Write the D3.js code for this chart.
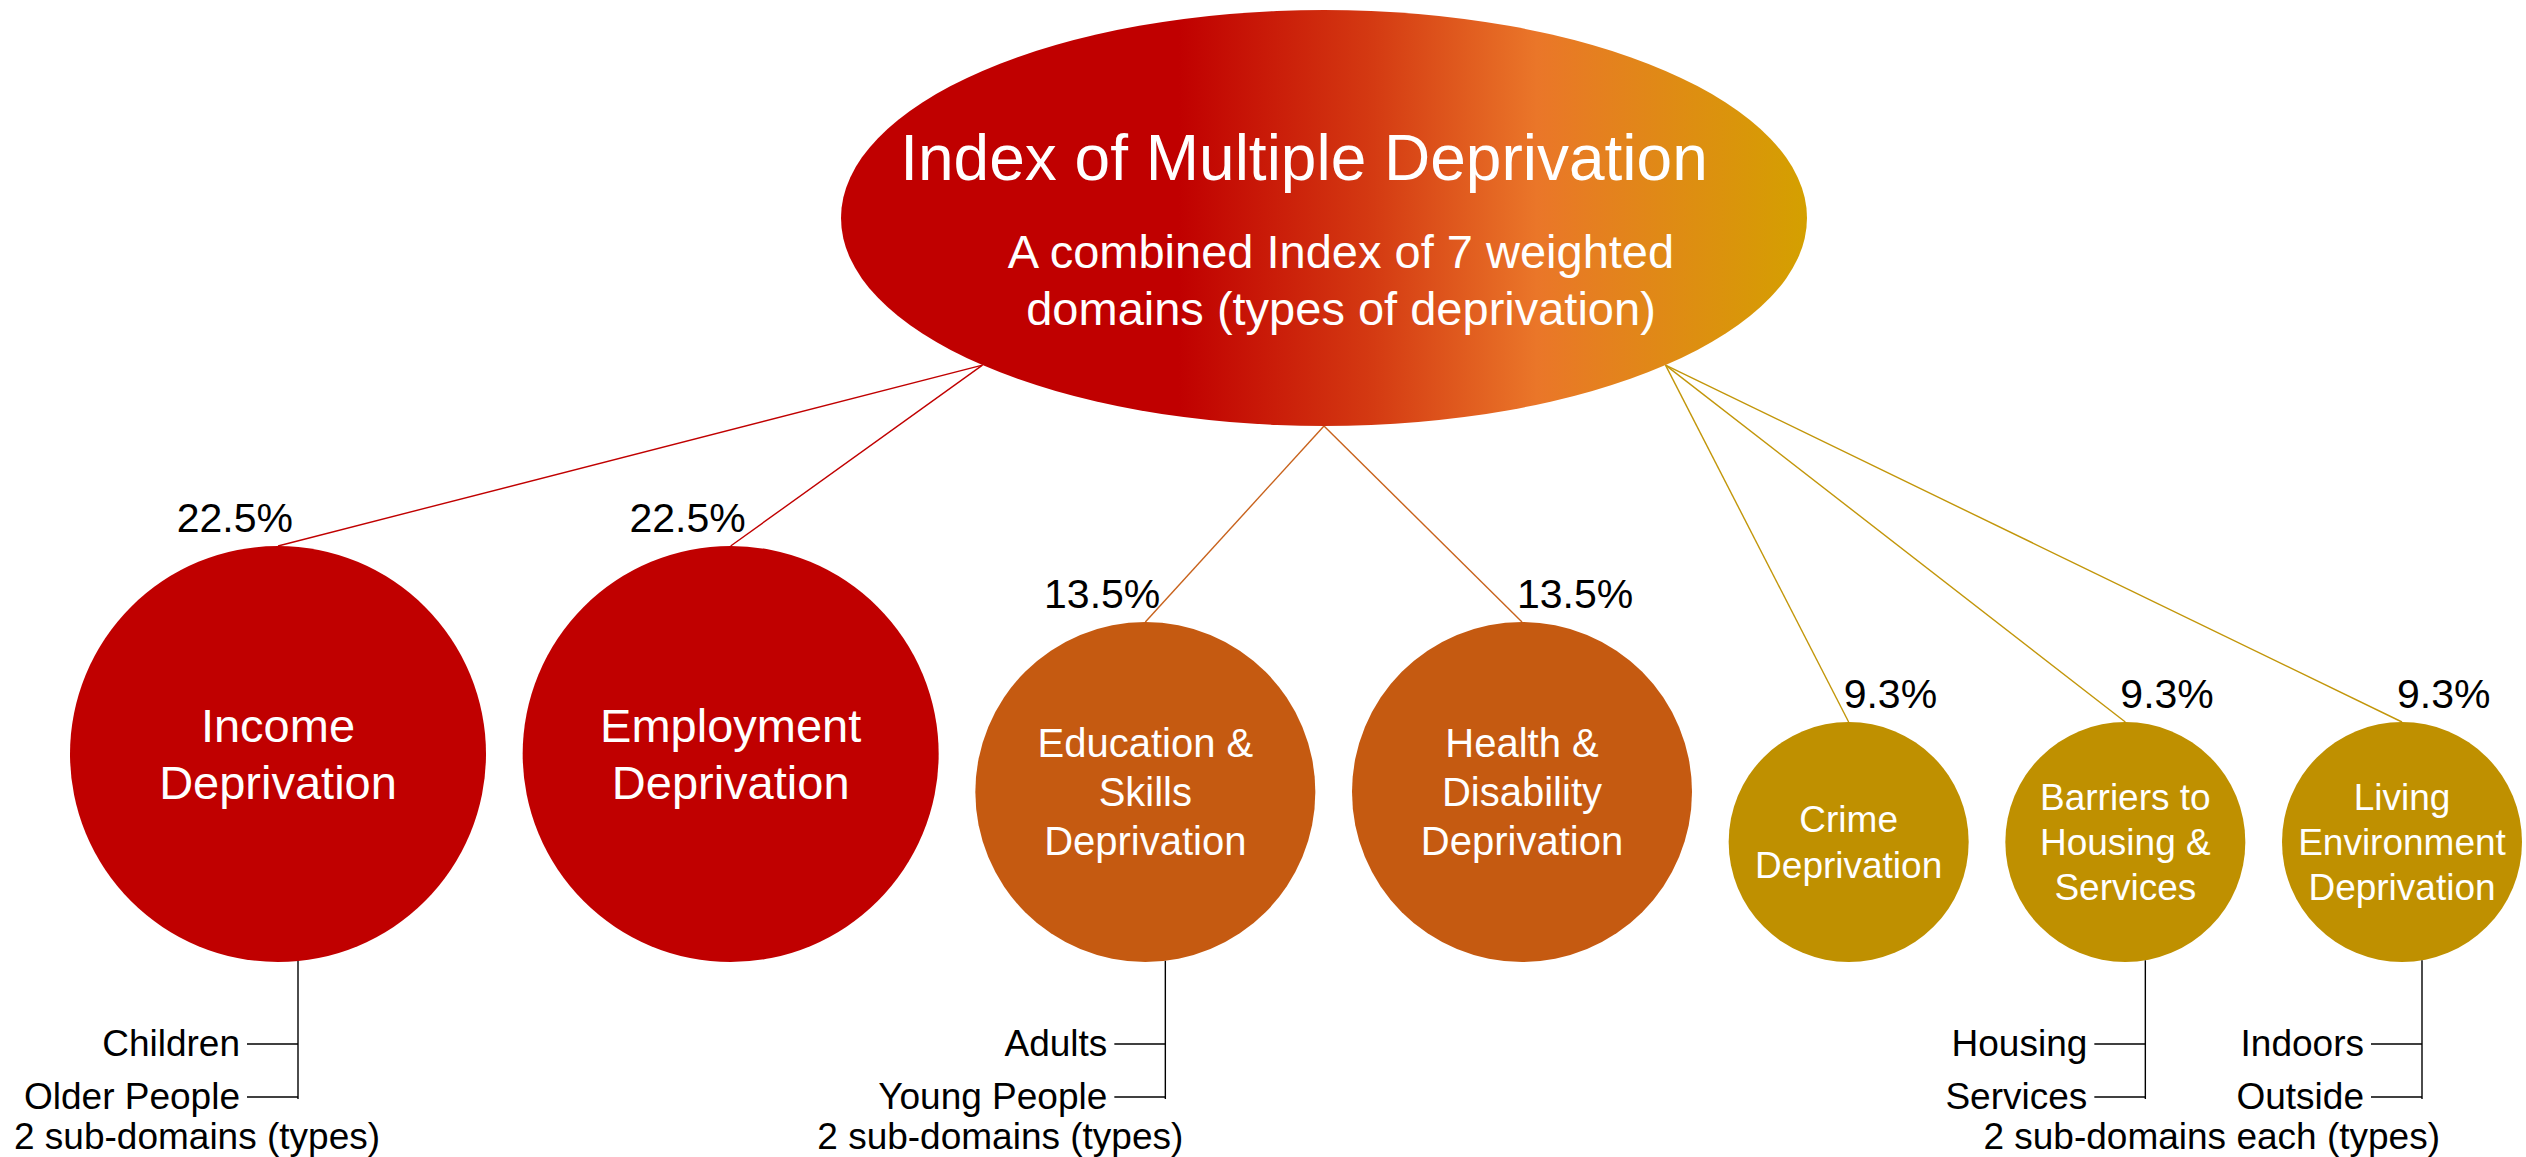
<!DOCTYPE html>
<html lang="en">
<head>
<meta charset="UTF-8">
<title>Index of Multiple Deprivation</title>
<style>
  body { margin: 0; background: #fff; }
  svg { display: block; font-family: "Liberation Sans", Arial, sans-serif; }
</style>
</head>
<body>
<script src="https://d3js.org/d3.v7.min.js"></script>
<script>
  // data
  var titleText = "Index of Multiple Deprivation";
  var subtitleLines = ["A combined Index of 7 weighted", "domains (types of deprivation)"];

  var domains = ["Income", "Employment", "Education", "Health", "Crime", "Barriers", "Living"];
  var labelLines = [
    ["Income", "Deprivation"],
    ["Employment", "Deprivation"],
    ["Education &", "Skills", "Deprivation"],
    ["Health &", "Disability", "Deprivation"],
    ["Crime", "Deprivation"],
    ["Barriers to", "Housing &", "Services"],
    ["Living", "Environment", "Deprivation"]
  ];
  var weights = [22.5, 22.5, 13.5, 13.5, 9.3, 9.3, 9.3];
  var subDomains = [
    ["Children", "Older People"],
    [],
    ["Adults", "Young People"],
    [],
    [],
    ["Housing", "Services"],
    ["Indoors", "Outside"]
  ];
  var footnoteTexts = ["2 sub-domains (types)", "2 sub-domains (types)", "2 sub-domains each (types)"];
  var footnoteDomains = [["Income"], ["Education"], ["Barriers", "Living"]];

  var W = 2526, H = 1157;

  var svg = d3.select("body").append("svg")
    .attr("width", W)
    .attr("height", H);

  // scales
  var radius = d3.scaleLinear().domain([9.3, 13.5, 22.5]).range([120, 170, 208]);
  var fill = d3.scaleOrdinal().domain([22.5, 13.5, 9.3]).range(["#C00000", "#C55A11", "#BF9000"]);
  var lineColor = d3.scaleOrdinal().domain([22.5, 13.5, 9.3]).range(["#C00000", "#C8621C", "#C2960A"]);
  var anchorAngle = d3.scaleOrdinal().domain([22.5, 13.5, 9.3]).range([135, 90, 45]);
  var labelSize = d3.scaleLinear().domain([9.3, 13.5, 22.5]).range([37, 40, 47]);

  // top ellipse
  var hub = { cx: 1324, cy: 218, rx: 483, ry: 208 };

  var defs = svg.append("defs");
  var grad = defs.append("linearGradient")
    .attr("id", "imdGrad")
    .attr("x1", 0).attr("x2", 1).attr("y1", 0).attr("y2", 0);
  [[0, "#C00000"], [0.35, "#C00000"], [0.55, "#D43A12"], [0.72, "#EA7629"], [1, "#D4A000"]].forEach(function(s) {
    grad.append("stop").attr("offset", s[0]).attr("stop-color", s[1]);
  });

  // node layout: circles side by side, bottoms aligned
  var left = 70, right = 2522, bottomY = 962;
  var totalD = d3.sum(weights, function(w) { return 2 * radius(w); });
  var gap = (right - left - totalD) / (weights.length - 1);
  var cursor = left;
  var nodes = domains.map(function(name, i) {
    var r = radius(weights[i]);
    var n = { name: name, i: i, w: weights[i], r: r, cx: cursor + r, cy: bottomY - r };
    cursor += 2 * r + gap;
    return n;
  });

  function anchorPoint(w) {
    var a = anchorAngle(w) * Math.PI / 180;
    return [hub.cx + hub.rx * Math.cos(a), hub.cy + hub.ry * Math.sin(a)];
  }

  // connector lines
  svg.append("g").selectAll("line")
    .data(nodes)
    .enter()
    .append("line")
    .attr("x1", function(d) { return anchorPoint(d.w)[0]; })
    .attr("y1", function(d) { return anchorPoint(d.w)[1]; })
    .attr("x2", function(d) { return d.cx; })
    .attr("y2", function(d) { return d.cy - d.r; })
    .attr("stroke", function(d) { return lineColor(d.w); })
    .attr("stroke-width", 1.4);

  svg.append("ellipse")
    .attr("cx", hub.cx).attr("cy", hub.cy)
    .attr("rx", hub.rx).attr("ry", hub.ry)
    .attr("fill", "url(#imdGrad)");

  svg.append("text")
    .attr("x", hub.cx - 20)
    .attr("y", 180)
    .attr("text-anchor", "middle")
    .attr("fill", "#fff")
    .attr("font-size", 64)
    .text(titleText);

  svg.append("g").selectAll("text")
    .data(subtitleLines)
    .enter()
    .append("text")
    .attr("x", hub.cx + 17)
    .attr("y", function(d, i) { return 268 + i * 57; })
    .attr("text-anchor", "middle")
    .attr("fill", "#fff")
    .attr("font-size", 47)
    .text(function(d) { return d; });

  // domain circles
  var node = svg.append("g").selectAll("g")
    .data(nodes)
    .enter()
    .append("g");

  node.append("circle")
    .attr("cx", function(d) { return d.cx; })
    .attr("cy", function(d) { return d.cy; })
    .attr("r", function(d) { return d.r; })
    .attr("fill", function(d) { return fill(d.w); });

  node.each(function(d) {
    var lines = labelLines[d.i];
    var fs = labelSize(d.w);
    var lh = fs * 1.22;
    var t = d3.select(this).append("text")
      .attr("text-anchor", "middle")
      .attr("fill", "#fff")
      .attr("font-size", fs);
    lines.forEach(function(l, k) {
      t.append("tspan")
        .attr("x", d.cx)
        .attr("y", d.cy - (lines.length - 1) / 2 * lh + k * lh + fs * 0.35)
        .text(l);
    });
  });

  // weight labels
  var pct = d3.format(".1f");
  node.append("text")
    .attr("font-size", 41)
    .attr("fill", "#000")
    .attr("text-anchor", function(d) { return anchorPoint(d.w)[0] > d.cx ? "end" : "start"; })
    .attr("x", function(d) { return anchorPoint(d.w)[0] > d.cx ? d.cx + 15 : d.cx - 5; })
    .attr("y", function(d) { return d.cy - d.r - 14; })
    .text(function(d) { return pct(d.w) + "%"; });

  // sub-domain brackets
  var rowY = d3.scalePoint().domain([0, 1]).range([1044, 1097]);
  var bracketX = {};
  nodes.forEach(function(d) {
    var subs = subDomains[d.i];
    if (!subs.length) return;
    var dx = 20;
    var bx = d.cx + dx;
    bracketX[d.name] = bx;
    var g = svg.append("g").attr("stroke", "#000").attr("stroke-width", 1.4);
    g.append("line")
      .attr("x1", bx).attr("x2", bx)
      .attr("y1", d.cy + Math.sqrt(d.r * d.r - dx * dx))
      .attr("y2", rowY(subs.length - 1) + 2);
    subs.forEach(function(s, k) {
      g.append("line")
        .attr("x1", bx - 51).attr("x2", bx)
        .attr("y1", rowY(k)).attr("y2", rowY(k));
      svg.append("text")
        .attr("x", bx - 58)
        .attr("y", rowY(k))
        .attr("dy", "0.33em")
        .attr("text-anchor", "end")
        .attr("font-size", 37)
        .attr("fill", "#000")
        .text(s);
    });
  });

  // footnotes under the brackets
  footnoteTexts.forEach(function(txt, i) {
    var bx = d3.max(footnoteDomains[i], function(n) { return bracketX[n]; });
    var t = svg.append("text")
      .attr("y", 1149)
      .attr("text-anchor", "end")
      .attr("font-size", 37)
      .attr("fill", "#000")
      .text(txt);
    var len = t.node().getComputedTextLength();
    t.attr("x", Math.max(bx + 18, 14 + len));
  });
</script>
</body>
</html>
